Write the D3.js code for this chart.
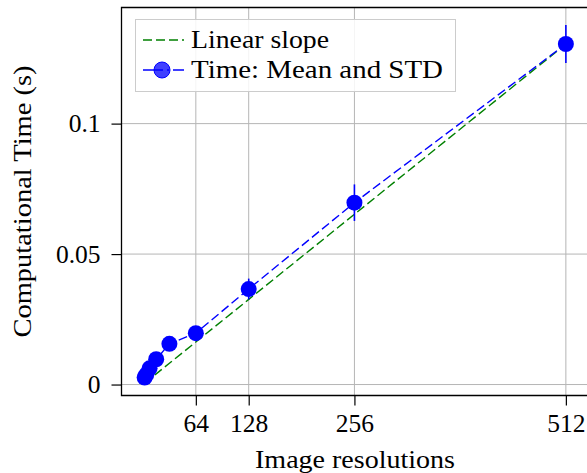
<!DOCTYPE html>
<html><head><meta charset="utf-8">
<script src="https://cdn.jsdelivr.net/npm/d3@7/dist/d3.min.js"></script>
<style>
body{margin:0;background:#fff;}
text{font-family:"Liberation Serif","DejaVu Serif",serif;fill:#000;}
</style></head>
<body><svg id="c" width="587" height="473"></svg>
<script>
const resolutions = [2, 4, 8, 16, 32, 64, 128, 256, 512];
const meanTime   = [0.0027, 0.0038, 0.0062, 0.0097, 0.0156, 0.0197, 0.0366, 0.0697, 0.1305];
const stdTime    = [0.0005, 0.0006, 0.0008, 0.0010, 0.0012, 0.0015, 0.0040, 0.0070, 0.0073];
const xTicks = [64, 128, 256, 512];
const yTicks = [0, 0.05, 0.1];
const yTickLabels = ["0", "0.05", "0.1"];
const legendLabels = ["Linear slope", "Time: Mean and STD"];
const legendWidths = [138, 252];
const slope = meanTime[meanTime.length-1] / resolutions[resolutions.length-1];
const linearVals = resolutions.map(r => r * slope);

const svg = d3.select("#c");
const L = 121.5, T = 7.5, B = 395.5, R = 589;
const x = d3.scaleLinear().domain([-26, 540]).range([L, R]);
const y = d3.scaleLinear().domain([-0.0042, 0.1445]).range([B, T]);
const FS = 25.5;

// grid
const g = svg.append("g");
g.selectAll(".vg").data(xTicks).join("line")
  .attr("x1", d => x(d)).attr("x2", d => x(d)).attr("y1", T).attr("y2", B)
  .attr("stroke", "#b5b5b5").attr("stroke-width", 1);
g.selectAll(".hg").data(yTicks).join("line")
  .attr("x1", L).attr("x2", R).attr("y1", d => y(d)).attr("y2", d => y(d))
  .attr("stroke", "#b5b5b5").attr("stroke-width", 1);

// axes
const xa = svg.append("g").attr("transform", `translate(0,${B})`)
  .call(d3.axisBottom(x).tickValues(xTicks).tickSize(10).tickPadding(8).tickFormat(d3.format("d")));
xa.select(".domain").remove();
xa.selectAll("text").attr("font-size", FS).style("font-family", "Liberation Serif");
xa.selectAll("line").attr("stroke", "#000").attr("stroke-width", 1.2);

const ya = svg.append("g").attr("transform", `translate(${L},0)`)
  .call(d3.axisLeft(y).tickValues(yTicks).tickSize(10).tickPadding(11).tickFormat((d,i) => yTickLabels[i]));
ya.select(".domain").remove();
ya.selectAll("text").attr("font-size", FS).style("font-family", "Liberation Serif");
ya.selectAll("line").attr("stroke", "#000").attr("stroke-width", 1.2);

// frame
svg.append("path").attr("d", `M${R},${T}H${L}V${B}H${R}`)
  .attr("fill", "none").attr("stroke", "#000").attr("stroke-width", 1.3);

// linear slope
const line = d3.line().x(d => x(d[0])).y(d => y(d[1]));
svg.append("path").datum(resolutions.map((r,i) => [r, linearVals[i]]))
  .attr("d", line).attr("fill", "none").attr("stroke", "#008000")
  .attr("stroke-width", 1.4).attr("stroke-dasharray", "9,4");

// mean line
svg.append("path").datum(resolutions.map((r,i) => [r, meanTime[i]]))
  .attr("d", line).attr("fill", "none").attr("stroke", "#0000ff")
  .attr("stroke-width", 1.4).attr("stroke-dasharray", "9,4");

// error bars
svg.selectAll(".eb").data(resolutions).join("line")
  .attr("x1", d => x(d)).attr("x2", d => x(d))
  .attr("y1", (d,i) => y(meanTime[i] - stdTime[i])).attr("y2", (d,i) => y(meanTime[i] + stdTime[i]))
  .attr("stroke", "#0000ff").attr("stroke-width", 1.6);

// markers
svg.selectAll(".mk").data(resolutions).join("circle")
  .attr("cx", d => x(d)).attr("cy", (d,i) => y(meanTime[i])).attr("r", 8)
  .attr("fill", "#0000ff");

// legend
const lg = svg.append("g");
lg.append("rect").attr("x", 135.5).attr("y", 19.5).attr("width", 320).attr("height", 72)
  .attr("fill", "#fff").attr("fill-opacity", 0.85).attr("stroke", "#cccccc").attr("stroke-width", 1);
lg.append("line").attr("x1", 143).attr("x2", 184).attr("y1", 40).attr("y2", 40)
  .attr("stroke", "#008000").attr("stroke-width", 1.4).attr("stroke-dasharray", "9,4");
lg.append("line").attr("x1", 143).attr("x2", 184).attr("y1", 70).attr("y2", 70)
  .attr("stroke", "#0000ff").attr("stroke-width", 1.4).attr("stroke-dasharray", "20,4,2,4");
lg.append("circle").attr("cx", 162).attr("cy", 70).attr("r", 8)
  .attr("fill", "#0000ff").attr("fill-opacity", 0.75).attr("stroke", "#0000ff").attr("stroke-width", 1);
lg.selectAll(".lt").data(legendLabels).join("text")
  .attr("x", 191).attr("y", (d,i) => 48 + i*30).attr("font-size", FS)
  .attr("textLength", (d,i) => legendWidths[i]).attr("lengthAdjust", "spacingAndGlyphs").text(d => d);

// axis titles
svg.append("text").attr("x", 355).attr("y", 468).attr("text-anchor", "middle")
  .attr("font-size", FS).attr("textLength", 200).attr("lengthAdjust", "spacingAndGlyphs")
  .text("Image resolutions");
svg.append("text").attr("transform", `translate(31,${(T+B)/2}) rotate(-90)`)
  .attr("text-anchor", "middle").attr("font-size", FS)
  .attr("textLength", 272).attr("lengthAdjust", "spacingAndGlyphs")
  .text("Computational Time (s)");
</script></body></html>
